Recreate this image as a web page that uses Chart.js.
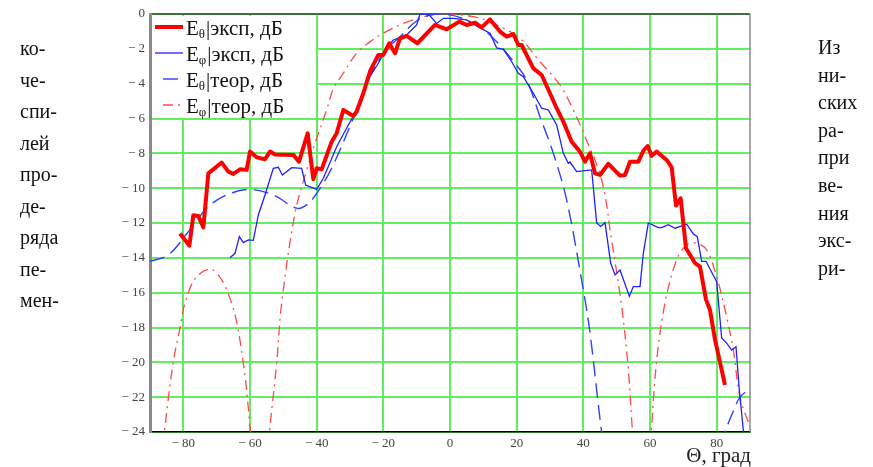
<!DOCTYPE html>
<html>
<head>
<meta charset="utf-8">
<script src="https://cdn.jsdelivr.net/npm/chart.js@4.4.1/dist/chart.umd.min.js"></script>
<style>
    body { margin: 0; background: #fff; }
    #wrap { position: relative; width: 873px; height: 467px; overflow: hidden; }
    .side { position: absolute; font-family: 'Liberation Serif', 'Times New Roman', serif; font-size: 20px; color: #111; line-height: 20px; }
</style>
</head>
<body>
<div id="wrap">
    <canvas id="pattern" width="873" height="467"></canvas>
</div>
<script>
// page text around the figure (hyphenated line fragments)
const leftWords = ['ко-', 'че-', 'спи-', 'лей', 'про-', 'де-', 'ряда', 'пе-', 'мен-'];
const rightWords = ['Из', 'ни-', 'ских', 'ра-', 'при', 'ве-', 'ния', 'экс-', 'ри-'];

// x axis ticks (degrees), y axis range (dB)
const xTicks = [-80, -60, -40, -20, 0, 20, 40, 60, 80];
const xMin = -90, xMax = 90;
const yMin = -24, yMax = 0, yStep = 2;

// E_theta, experiment
const thetaExpX = [-81, -78.2, -77, -75.5, -74, -72.5, -68.5, -66.5, -65, -63, -61, -60, -58, -55.5, -54, -52.5, -47, -45.3, -42.7, -41, -40, -38.5, -35.5, -34, -32, -29, -28, -26, -24, -21.5, -20, -18.2, -16.5, -15, -13, -9.8, -4.5, -1, 2.8, 5, 7.5, 9.5, 12, 15, 17, 19, 20.5, 21.5, 25, 27.5, 30, 32, 34, 36.5, 39, 40.5, 42, 43.5, 45, 47.5, 51, 52.5, 54, 56.5, 58, 59.3, 60.5, 62, 65, 66.5, 67.8, 69.2, 70.8, 73.5, 75, 76.8, 78, 79.5, 82.5];
const thetaExpY = [-12.6, -13.3, -11.56, -11.6, -12.25, -9.15, -8.53, -9.05, -9.18, -8.92, -8.95, -7.9, -8.23, -8.34, -7.9, -8.06, -8.09, -8.48, -6.85, -9.49, -8.86, -8.92, -7.33, -6.85, -5.51, -5.86, -5.6, -4.55, -3.3, -2.35, -2.35, -1.68, -2.26, -1.4, -1.26, -1.68, -0.63, -0.88, -0.44, -0.63, -0.5, -0.77, -0.31, -1.01, -1.3, -1.15, -1.78, -1.78, -3.12, -3.5, -4.55, -5.41, -6.18, -7.33, -7.9, -8.48, -8.0, -9.15, -9.24, -8.6, -9.28, -9.24, -8.48, -8.48, -7.85, -7.58, -8.15, -7.9, -8.38, -8.8, -11.0, -10.58, -13.45, -14.3, -14.5, -16.4, -17.0, -18.7, -21.3];

// E_phi, experiment
const phiExpX = [-66, -64.5, -63.2, -62, -60.5, -59, -57.5, -55.5, -53, -51.5, -50.3, -47.5, -44.5, -43.3, -40, -38, -34, -30.5, -28.5, -25, -21.5, -18.8, -17, -13, -10, -9, -6.5, -4, -2, 1, 5, 9, 12, 14, 16, 18.5, 20.5, 22, 25, 27.5, 29.5, 32, 34, 35.5, 36, 38, 42.5, 44, 45.2, 46.5, 48.2, 49.5, 51, 53.8, 55, 57, 58, 59.5, 62.5, 63.5, 65.5, 67.5, 71, 73, 74.2, 75.5, 76.8, 80, 81.5, 83, 84.5, 85.8, 86.8, 88, 89];
const phiExpY = [-14.0, -13.74, -12.78, -13.13, -12.97, -13.0, -11.54, -10.39, -8.86, -8.8, -9.24, -8.82, -8.86, -9.82, -10.07, -9.43, -7.62, -6.37, -5.7, -3.89, -2.83, -1.88, -1.49, -1.2, -0.63, 0, 0, -0.54, -0.25, -0.25, -0.34, -0.8, -1.1, -1.95, -2.03, -2.74, -3.4, -3.6, -4.55, -5.41, -5.51, -6.37, -8.0, -8.57, -8.5, -9.05, -8.95, -12.0, -12.2, -11.98, -14.3, -14.98, -14.7, -16.2, -15.65, -15.65, -13.74, -12.0, -12.27, -12.27, -12.1, -12.3, -12.07, -12.63, -12.78, -14.2, -14.2, -15.37, -18.6, -18.9, -19.3, -19.1, -21.6, -23.9, -26];

// E_theta, theory
const thetaTheoX = [-90, -84.5, -78.5, -72.5, -67, -60.5, -53, -46, -43, -40, -35.5, -28, -25, -20, -15, -10, -5, 0, 5, 10, 14, 18.5, 23, 27, 31, 35, 40, 42, 45.5, 48, 65, 80, 82, 85, 87, 90];
const thetaTheoY = [-14.2, -13.83, -12.5, -11.06, -10.39, -10.07, -10.39, -11.15, -10.96, -10.3, -8.86, -5.5, -3.98, -2.26, -1.3, -0.4, -0.02, -0.05, -0.35, -0.9, -1.59, -2.6, -3.79, -5.9, -8.0, -10.68, -15.85, -18.3, -24, -27, null, -26, -24.3, -22.8, -22.0, -21.5];

// E_phi, theory
const phiTheoX = [-86.5, -85.5, -83, -81, -79.5, -76, -71, -65.5, -62, -60, -59, -57, -55, -54, -52, -50.5, -46.5, -43, -40.5, -37, -35, -32, -28, -24, -20, -12, -3, 7, 13, 21, 27, 33, 37, 40.5, 45.5, 48.5, 51.5, 53.5, 54.5, 55.5, 57.5, 59.8, 60.5, 62, 64.5, 68, 71, 74, 77, 80, 83, 85, 87, 90];
const phiTheoY = [-26, -23.7, -19.96, -18.05, -16.6, -15.08, -14.7, -16.6, -20.05, -23.7, -26, null, -26, -23.7, -20.05, -16.6, -11.44, -8.96, -7.42, -5.51, -4.3, -3.4, -2.25, -1.6, -1.1, -0.4, 0, -0.15, -0.54, -1.4, -2.74, -4.08, -5.51, -7.04, -9.53, -13.0, -16.8, -20.4, -23.3, -26, null, -26, -23.7, -19.9, -16.6, -14.1, -13.26, -13.16, -13.55, -15.08, -17.4, -19.3, -22.0, -23.7];

const legendItems = [
    { sub: 'θ', rest: '|эксп, дБ', color: '#ff0000', width: 4, dash: [] },
    { sub: 'φ', rest: '|эксп, дБ', color: '#2020ff', width: 1.3, dash: [] },
    { sub: 'θ', rest: '|теор, дБ', color: '#3040ff', width: 1.4, dash: [15, 7] },
    { sub: 'φ', rest: '|теор, дБ', color: '#ff4a4a', width: 1.3, dash: [10, 5, 2, 5] }
];

function toPoints(xs, ys) {
    return xs.map((x, i) => ({ x: x, y: ys[i] }));
}

leftWords.forEach((w, i) => {
    const d = document.createElement('div');
    d.className = 'side';
    d.style.left = '20px';
    d.style.top = (38 + i * 31.5) + 'px';
    d.textContent = w;
    document.getElementById('wrap').appendChild(d);
});
rightWords.forEach((w, i) => {
    const d = document.createElement('div');
    d.className = 'side';
    d.style.left = '818px';
    d.style.top = (37 + i * 27.6) + 'px';
    d.textContent = w;
    document.getElementById('wrap').appendChild(d);
});

const SERIF = "'Liberation Serif', 'Times New Roman', serif";
const GRID = '#62ee62';

const frame = {
    id: 'frame',
    beforeDatasetsDraw(chart) {
        const ctx = chart.ctx, a = chart.chartArea;
        ctx.save();
        // legend box hides the grid
        ctx.fillStyle = '#fff';
        ctx.fillRect(a.left + 2, a.top + 2, 164, 102);
        ctx.strokeStyle = '#8a8a8a';
        ctx.lineWidth = 1.5;
        ctx.beginPath();
        ctx.moveTo(a.right, a.top);
        ctx.lineTo(a.right, a.bottom);
        ctx.stroke();
        ctx.restore();
    },
    afterDraw(chart) {
        const ctx = chart.ctx, a = chart.chartArea;
        ctx.save();
        legendItems.forEach((it, i) => {
            const y = a.top + 13 + i * 26;
            ctx.strokeStyle = it.color;
            ctx.lineWidth = it.width;
            ctx.setLineDash(it.dash);
            ctx.beginPath();
            if (it.dash.length) {
                ctx.moveTo(a.left + 13, y);
            } else {
                ctx.moveTo(a.left + 5, y);
            }
            ctx.lineTo(a.left + 33, y);
            ctx.stroke();
            ctx.setLineDash([]);
            ctx.fillStyle = '#111';
            ctx.textBaseline = 'alphabetic';
            ctx.font = '21px ' + SERIF;
            let x = a.left + 36;
            ctx.fillText('E', x, y + 8);
            x += ctx.measureText('E').width;
            ctx.font = '13px ' + SERIF;
            ctx.fillText(it.sub, x, y + 11);
            x += ctx.measureText(it.sub).width + 1;
            ctx.font = '21px ' + SERIF;
            ctx.fillText(it.rest, x, y + 8);
        });
        ctx.font = '21px ' + SERIF;
        ctx.fillStyle = '#222';
        ctx.textAlign = 'right';
        ctx.fillText('Θ, град', a.right + 1, 462);
        ctx.restore();
    }
};

let patternChart = new Chart(
    document.getElementById('pattern'),
    {
        type: 'line',
        data: {
            datasets: [
                {
                    label: 'Eθ|эксп, дБ',
                    data: toPoints(thetaExpX, thetaExpY),
                    borderColor: legendItems[0].color,
                    borderWidth: legendItems[0].width,
                    borderJoinStyle: 'round'
                },
                {
                    label: 'Eφ|эксп, дБ',
                    data: toPoints(phiExpX, phiExpY),
                    borderColor: legendItems[1].color,
                    borderWidth: legendItems[1].width
                },
                {
                    label: 'Eθ|теор, дБ',
                    data: toPoints(thetaTheoX, thetaTheoY),
                    borderColor: legendItems[2].color,
                    borderWidth: legendItems[2].width,
                    borderDash: legendItems[2].dash,
                    tension: 0.35
                },
                {
                    label: 'Eφ|теор, дБ',
                    data: toPoints(phiTheoX, phiTheoY),
                    borderColor: legendItems[3].color,
                    borderWidth: legendItems[3].width,
                    borderDash: legendItems[3].dash,
                    tension: 0.35
                }
            ]
        },
        options: {
            responsive: false,
            animation: false,
            elements: { point: { radius: 0 } },
            datasets: { line: { clip: 0, spanGaps: false } },
            layout: { padding: { left: 0, right: 123, top: 14, bottom: 0 } },
            scales: {
                x: {
                    type: 'linear',
                    min: xMin,
                    max: xMax,
                    afterBuildTicks: (scale) => {
                        scale.ticks = xTicks.map(v => ({ value: v }));
                    },
                    afterFit: (scale) => { scale.height = 35; },
                    grid: { color: GRID, lineWidth: 2, drawTicks: false },
                    border: { color: '#000', width: 1.5 },
                    ticks: {
                        padding: 4,
                        color: '#444',
                        font: { family: SERIF, size: 13 },
                        callback: (v) => v < 0 ? '\u2212 ' + Math.abs(v) : '' + v
                    }
                },
                y: {
                    min: yMin,
                    max: yMax,
                    afterFit: (scale) => { scale.width = 150; },
                    grid: {
                        color: (c) => c.tick && c.tick.value === 0 ? '#3f6f3f' : GRID,
                        lineWidth: 2,
                        drawTicks: false
                    },
                    border: { color: '#8a8a8a', width: 3 },
                    ticks: {
                        stepSize: yStep,
                        padding: 5,
                        color: '#444',
                        font: { family: SERIF, size: 13 },
                        callback: (v) => v === 0 ? '0' : '\u2212 ' + Math.abs(v)
                    }
                }
            },
            plugins: {
                legend: { display: false },
                tooltip: { enabled: false }
            }
        },
        plugins: [frame]
    }
);
</script>
</body>
</html>
